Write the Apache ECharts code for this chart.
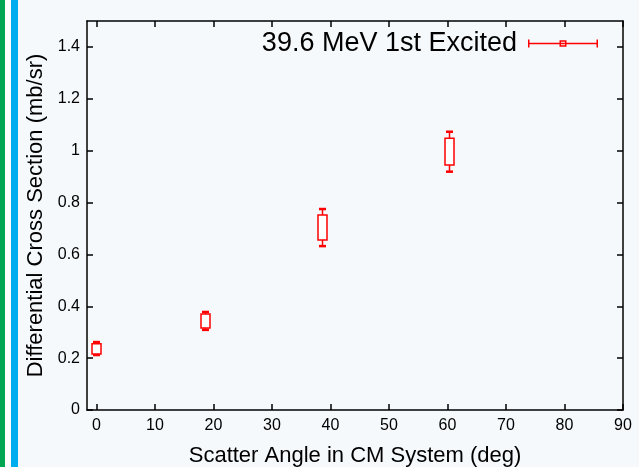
<!DOCTYPE html>
<html>
<head>
<meta charset="utf-8">
<script src="https://cdn.jsdelivr.net/npm/echarts@6/dist/echarts.min.js"></script>
<style>
  html, body { margin: 0; padding: 0; background: #f5f9fc; }
  #chart { width: 639px; height: 467px; }
</style>
</head>
<body>
<div id="chart"></div>
<script>
// scatter angles (deg, CM) and cross sections (mb/sr)
const angles = [0, 18.6, 38.5, 60.3];
const whiskerLow = [0.212, 0.309, 0.632, 0.919];
const boxLow = [0.216, 0.316, 0.656, 0.945];
const boxHigh = [0.255, 0.370, 0.752, 1.048];
const whiskerHigh = [0.262, 0.378, 0.775, 1.073];
const xTicks = [0, 10, 20, 30, 40, 50, 60, 70, 80, 90];
const yTicks = [0, 0.2, 0.4, 0.6, 0.8, 1, 1.2, 1.4];
const seriesName = '39.6 MeV 1st Excited';

const font = 'Liberation Sans, Arial, Helvetica, sans-serif';
const red = '#ff0000';

const data = angles.map((a, i) => [a, whiskerLow[i], boxLow[i], boxHigh[i], whiskerHigh[i]]);

function renderBox(params, api) {
  const x = api.value(0);
  const wLo = api.coord([x, api.value(1)]);
  const bLo = api.coord([x, api.value(2)]);
  const bHi = api.coord([x, api.value(3)]);
  const wHi = api.coord([x, api.value(4)]);
  const cx = Math.round(bHi[0]) + 0.5;
  const half = 4.5, cap = 3.5;
  const stroke = { stroke: red, lineWidth: 1.5 };
  return {
    type: 'group',
    children: [
      { type: 'line', shape: { x1: cx, y1: wHi[1], x2: cx, y2: bHi[1] }, style: stroke },
      { type: 'line', shape: { x1: cx, y1: bLo[1], x2: cx, y2: wLo[1] }, style: stroke },
      { type: 'line', shape: { x1: cx - cap, y1: wHi[1], x2: cx + cap, y2: wHi[1] }, style: { stroke: red, lineWidth: 2.5 } },
      { type: 'line', shape: { x1: cx - cap, y1: wLo[1], x2: cx + cap, y2: wLo[1] }, style: { stroke: red, lineWidth: 2.5 } },
      { type: 'rect', shape: { x: cx - half, y: bHi[1], width: half * 2, height: bLo[1] - bHi[1] },
        style: { fill: '#ffffff', stroke: red, lineWidth: 1.5 } }
    ]
  };
}

const legendIcon = 'path://M0 4.3L70 4.3L70 5.7L0 5.7Z' +
  'M0 1L1.5 1L1.5 9L0 9Z M68.5 1L70 1L70 9L68.5 9Z' +
  'M31.5 1.8L38.5 1.8L38.5 3.3L31.5 3.3Z M31.5 6.7L38.5 6.7L38.5 8.2L31.5 8.2Z' +
  'M31.5 1.8L33 1.8L33 8.2L31.5 8.2Z M37 1.8L38.5 1.8L38.5 8.2L37 8.2Z';

const tickStyle = { show: true, inside: true, length: 6, lineStyle: { color: '#000', width: 1.5 } };
const lineStyle = { show: true, onZero: false, lineStyle: { color: '#000', width: 1.5 } };

const chart = echarts.init(document.getElementById('chart'), null, { renderer: 'canvas' });
chart.setOption({
  backgroundColor: '#f5f9fc',
  animation: false,
  textStyle: { fontFamily: font },
  graphic: [
    { type: 'rect', left: 0, top: 0, shape: { width: 5, height: 467 }, style: { fill: '#00a651' }, z: -1 },
    { type: 'rect', left: 5, top: 0, shape: { width: 6, height: 467 }, style: { fill: '#ffffff' }, z: -1 },
    { type: 'rect', left: 11, top: 0, shape: { width: 7, height: 467 }, style: { fill: '#00aeef' }, z: -1 }
  ],
  grid: { left: 87, right: 16, top: 21, bottom: 57, show: false, outerBoundsMode: 'none', containLabel: false },
  legend: {
    right: 36, top: 25,
    align: 'right',
    itemWidth: 70, itemHeight: 10, itemGap: 10,
    data: [{ name: seriesName, icon: legendIcon }],
    itemStyle: { color: red, borderWidth: 0 },
    textStyle: { fontFamily: font, fontSize: 27, color: '#000', padding: [0, 6, 0, 0] },
    selectedMode: false
  },
  xAxis: [
    {
      type: 'value', min: -1.6, max: 90,
      name: 'Scatter Angle in CM System (deg)', nameLocation: 'middle', nameGap: 35,
      nameTextStyle: { fontFamily: font, fontSize: 22, color: '#000' },
      axisLine: lineStyle, splitLine: { show: false },
      axisTick: Object.assign({ customValues: xTicks }, tickStyle),
      axisLabel: { customValues: xTicks, fontFamily: font, fontSize: 16, color: '#000', margin: 8 }
    },
    {
      type: 'value', position: 'top', min: -1.6, max: 90,
      axisLine: lineStyle, splitLine: { show: false },
      axisTick: Object.assign({ customValues: xTicks }, tickStyle),
      axisLabel: { show: false }
    }
  ],
  yAxis: [
    {
      type: 'value', min: 0, max: 1.5,
      name: 'Differential Cross Section (mb/sr)', nameLocation: 'middle', nameGap: 36,
      nameTextStyle: { fontFamily: font, fontSize: 22, color: '#000' },
      axisLine: lineStyle, splitLine: { show: false },
      axisTick: Object.assign({ customValues: yTicks }, tickStyle),
      axisLabel: { customValues: yTicks, fontFamily: font, fontSize: 16, color: '#000', margin: 7 }
    },
    {
      type: 'value', position: 'right', min: 0, max: 1.5,
      axisLine: lineStyle, splitLine: { show: false },
      axisTick: Object.assign({ customValues: yTicks }, tickStyle),
      axisLabel: { show: false }
    }
  ],
  series: [{
    name: seriesName,
    type: 'custom',
    itemStyle: { color: red },
    renderItem: renderBox,
    encode: { x: 0, y: [1, 2, 3, 4] },
    data: data
  }]
});
</script>
</body>
</html>
